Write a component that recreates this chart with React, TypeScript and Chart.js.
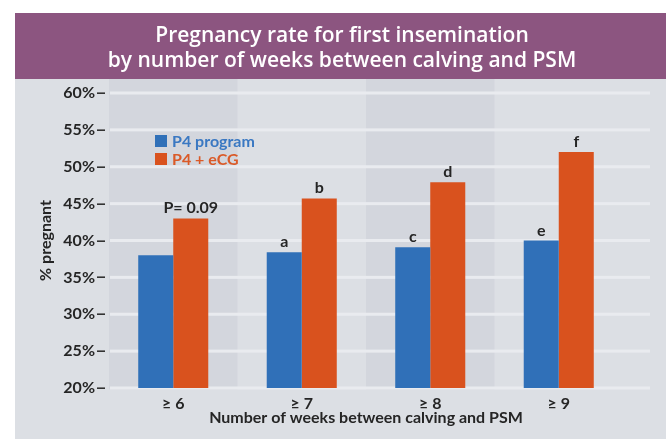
import React, { useEffect, useRef } from "react";
import { Chart, registerables } from "chart.js";

Chart.register(...registerables);

const categories = ["≥ 6", "≥ 7", "≥ 8", "≥ 9"];
const seriesNames = ["P4 program", "P4 + eCG"];
const p4Program = [38, 38.4, 39.1, 40];
const p4eCG = [43, 45.7, 47.9, 52];
const p4Labels = ["", "a", "c", "e"];
const eCGLabels = ["P= 0.09", "b", "d", "f"];
const titleLines = ["Pregnancy rate for first insemination", "by number of weeks between calving and PSM"];
const yTitle = "% pregnant";
const xTitle = "Number of weeks between calving and PSM";
const yMin = 20;
const yMax = 60;
const yStep = 5;

const BLUE = "#3070B8";
const ORANGE = "#D9521E";
const LEG_BLUE = "#3A78C2";
const LEG_ORANGE = "#DA5A28";
const PURPLE = "#8C5580";
const PANEL = "#DCDFE4";
const BAND = "#D3D6DD";
const GRID = "#E9EBEF";
const TEXT = "#252525";
const FONT = "Lato, 'Open Sans', sans-serif";
const TITLE_FONT = "'Open Sans', Lato, sans-serif";

const W = 671;
const H = 439;

const decorPlugin = {
  id: "decor",
  beforeDraw(chart: any) {
    const { ctx, chartArea, scales } = chart;
    const x = scales.x;
    const y = scales.y;
    ctx.save();
    ctx.fillStyle = "#ffffff";
    ctx.fillRect(0, 0, W, H);
    ctx.fillStyle = PANEL;
    ctx.fillRect(15, 13, 651, 426);
    const bw = (chartArea.right - chartArea.left) / categories.length;
    const bottom = y.getPixelForValue(yMin);
    categories.forEach((_, i) => {
      if (i % 2 === 0) {
        const cx = x.getPixelForValue(i);
        ctx.fillStyle = BAND;
        ctx.fillRect(cx - bw / 2, 79, bw, bottom + 1.5 - 79);
      }
    });
    ctx.fillStyle = GRID;
    y.ticks.forEach((t: any) => {
      const py = y.getPixelForValue(t.value);
      ctx.fillRect(chartArea.left + 1, py - 1.5, chartArea.right + 26 - chartArea.left, 3);
    });
    ctx.strokeStyle = "#333";
    ctx.lineWidth = 1.6;
    y.ticks.forEach((t: any) => {
      const py = Math.round(y.getPixelForValue(t.value)) + 0.2;
      ctx.beginPath();
      ctx.moveTo(chartArea.left - 12, py);
      ctx.lineTo(chartArea.left - 4, py);
      ctx.stroke();
    });
    ctx.fillStyle = PURPLE;
    ctx.fillRect(15, 13, 651, 66);
    ctx.fillStyle = "#ffffff";
    ctx.font = `600 21px ${TITLE_FONT}`;
    ctx.textAlign = "center";
    ctx.textBaseline = "alphabetic";
    ctx.fillText(titleLines[0], 342, 42);
    ctx.fillText(titleLines[1], 342, 67);
    ctx.restore();
  },
  afterDatasetsDraw(chart: any) {
    const { ctx } = chart;
    ctx.save();
    ctx.font = `bold 16px ${FONT}`;
    ctx.textAlign = "center";
    ctx.textBaseline = "alphabetic";
    ctx.fillStyle = TEXT;
    const lists = [p4Labels, eCGLabels];
    lists.forEach((labels, di) => {
      const meta = chart.getDatasetMeta(di);
      meta.data.forEach((bar: any, i: number) => {
        if (labels[i]) ctx.fillText(labels[i], bar.x, bar.y - 5);
      });
    });
    const sq = [BLUE, ORANGE];
    const tc = [LEG_BLUE, LEG_ORANGE];
    ctx.textAlign = "left";
    seriesNames.forEach((name, i) => {
      const top = 135 + i * 18;
      ctx.fillStyle = sq[i];
      ctx.fillRect(155, top, 12, 12);
      ctx.fillStyle = tc[i];
      ctx.font = `bold 16px ${FONT}`;
      ctx.fillText(name, 172, top + 11.5);
    });
    ctx.restore();
  },
};

export default function App() {
  const ref = useRef<HTMLCanvasElement | null>(null);
  useEffect(() => {
    if (!ref.current) return;
    const tickFont = { family: FONT, size: 16, weight: "bold" as const };
    const chart = new Chart(ref.current, {
      type: "bar",
      data: {
        labels: categories,
        datasets: [
          { label: seriesNames[0], data: p4Program, backgroundColor: BLUE, categoryPercentage: 0.545, barPercentage: 1 },
          { label: seriesNames[1], data: p4eCG, backgroundColor: ORANGE, categoryPercentage: 0.545, barPercentage: 1 },
        ],
      },
      options: {
        animation: false,
        responsive: false,
        devicePixelRatio: 1,
        layout: { padding: { top: 93, right: 48, bottom: 0, left: 0 } },
        plugins: {
          legend: { display: false },
          tooltip: { enabled: false },
          title: { display: false },
        },
        scales: {
          x: {
            grid: { display: false, drawTicks: false },
            border: { display: false },
            ticks: { color: TEXT, font: tickFont, padding: 6 },
            title: { display: true, text: xTitle, color: TEXT, font: tickFont, padding: { top: 0, bottom: 12 } },
            afterFit: (s: any) => { s.height = 51; },
          },
          y: {
            min: yMin,
            max: yMax,
            grid: { display: false, drawTicks: false },
            border: { display: false },
            ticks: { stepSize: yStep, color: TEXT, font: tickFont, padding: 14, callback: (v: any) => v + "%" },
            title: { display: true, text: yTitle, color: TEXT, font: tickFont, padding: { top: 36, bottom: 0 } },
            afterFit: (s: any) => { s.width = 109; },
          },
        },
      },
      plugins: [decorPlugin],
    });
    return () => chart.destroy();
  }, []);
  return (
    <div style={{ position: "absolute", left: 0, top: 0, width: W, height: H }}>
      <canvas ref={ref} width={W} height={H} style={{ display: "block", width: W, height: H }} />
    </div>
  );
}
